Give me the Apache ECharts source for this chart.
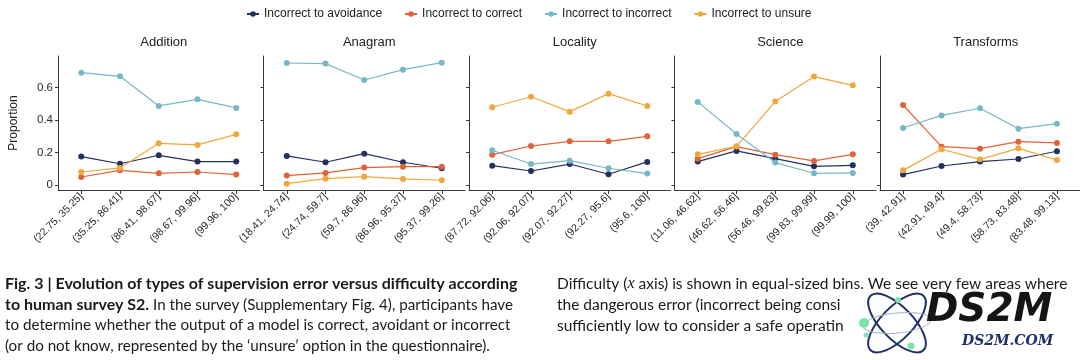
<!DOCTYPE html>
<html><head><meta charset="utf-8">
<script src="https://cdn.jsdelivr.net/npm/echarts@6/dist/echarts.min.js"></script>
<style>html,body{margin:0;padding:0;background:#fff}#c{width:1080px;height:360px}</style>
</head><body><div id="c"></div>
<script>
const panels = ['Addition','Anagram','Locality','Science','Transforms'];
const seriesNames = ['Incorrect to avoidance','Incorrect to correct','Incorrect to incorrect','Incorrect to unsure'];
const seriesColors = ['#25305e','#e0643a','#76b8c6','#f0a73d'];

const binsAddition   = ['(22.75, 35.25]','(35.25, 86.41]','(86.41, 98.67]','(98.67, 99.96]','(99.96, 100]'];
const binsAnagram    = ['(18.41, 24.74]','(24.74, 59.7]','(59.7, 86.96]','(86.96, 95.37]','(95.37, 99.26]'];
const binsLocality   = ['(87.72, 92.06]','(92.06, 92.07]','(92.07, 92.27]','(92.27, 95.6]','(95.6, 100]'];
const binsScience    = ['(11.06, 46.62]','(46.62, 56.46]','(56.46, 99.83]','(99.83, 99.99]','(99.99, 100]'];
const binsTransforms = ['(39, 42.91]','(42.91, 49.4]','(49.4, 58.73]','(58.73, 83.48]','(83.48, 99.13]'];

const additionAvoidance = [0.175, 0.131, 0.183, 0.144, 0.144];
const additionCorrect   = [0.049, 0.090, 0.072, 0.080, 0.064];
const additionIncorrect = [0.692, 0.670, 0.487, 0.528, 0.475];
const additionUnsure    = [0.080, 0.105, 0.257, 0.247, 0.312];

const anagramAvoidance = [0.179, 0.140, 0.193, 0.140, 0.103];
const anagramCorrect   = [0.058, 0.074, 0.107, 0.113, 0.113];
const anagramIncorrect = [0.752, 0.748, 0.647, 0.711, 0.754];
const anagramUnsure    = [0.008, 0.039, 0.051, 0.037, 0.029];

const localityAvoidance = [0.119, 0.086, 0.129, 0.066, 0.142];
const localityCorrect   = [0.187, 0.240, 0.269, 0.269, 0.300];
const localityIncorrect = [0.214, 0.129, 0.150, 0.103, 0.070];
const localityUnsure    = [0.479, 0.544, 0.452, 0.563, 0.487];

const scienceAvoidance = [0.144, 0.210, 0.162, 0.115, 0.121];
const scienceCorrect   = [0.162, 0.236, 0.187, 0.148, 0.189];
const scienceIncorrect = [0.512, 0.314, 0.138, 0.072, 0.074];
const scienceUnsure    = [0.189, 0.238, 0.514, 0.668, 0.614];

const transformsAvoidance = [0.064, 0.117, 0.144, 0.160, 0.208];
const transformsCorrect   = [0.493, 0.236, 0.224, 0.267, 0.259];
const transformsIncorrect = [0.351, 0.429, 0.473, 0.347, 0.378];
const transformsUnsure    = [0.090, 0.220, 0.158, 0.226, 0.154];

const yTicks = [0, 0.2, 0.4, 0.6];

const panelBins = [binsAddition, binsAnagram, binsLocality, binsScience, binsTransforms];
const panelData = [
  [additionAvoidance, additionCorrect, additionIncorrect, additionUnsure],
  [anagramAvoidance, anagramCorrect, anagramIncorrect, anagramUnsure],
  [localityAvoidance, localityCorrect, localityIncorrect, localityUnsure],
  [scienceAvoidance, scienceCorrect, scienceIncorrect, scienceUnsure],
  [transformsAvoidance, transformsCorrect, transformsIncorrect, transformsUnsure]
];

const FONT = 'Liberation Sans';
const AX = '#3a3a3a';
const L0 = 58, STEP = 205.5, PW = 201.5, TOP = 56, PH = 134;

const grids = [], xAxes = [], yAxes = [], series = [], titles = [];
panels.forEach((p, i) => {
  const left = L0 + STEP * i;
  grids.push({left: left, top: TOP, width: PW, height: PH, containLabel: false});
  titles.push({text: p, left: left + PW / 2, top: 31, textAlign: 'center',
    textStyle: {fontFamily: FONT, fontSize: 13, fontWeight: 'normal', color: '#222'}});
  const bins = panelBins[i];
  xAxes.push({
    type: 'value', gridIndex: i, min: -0.6, max: bins.length - 0.4,
    splitLine: {show: false},
    axisLine: {show: true, onZero: false, lineStyle: {color: AX, width: 1}},
    axisTick: {show: true, length: 4, customValues: bins.map((b, k) => k), lineStyle: {color: AX}},
    axisLabel: {show: true, customValues: bins.map((b, k) => k), rotate: 45, margin: 5,
      fontFamily: FONT, fontSize: 10.5, color: '#2a2a2a', formatter: v => bins[Math.round(v)] || ''}
  });
  yAxes.push({
    type: 'value', gridIndex: i, min: -0.031, max: 0.795,
    splitLine: {show: false},
    axisLine: {show: true, onZero: false, lineStyle: {color: AX, width: 1}},
    axisTick: {show: true, length: 3, customValues: yTicks, lineStyle: {color: AX}},
    axisLabel: {show: i === 0, customValues: yTicks, margin: 5, fontFamily: FONT, fontSize: 11.5, color: '#2a2a2a',
      formatter: v => v === 0 ? '0' : v.toFixed(1)},
    name: i === 0 ? 'Proportion' : '', nameLocation: 'middle', nameGap: 38, nameRotate: 90,
    nameTextStyle: {fontFamily: FONT, fontSize: 12, color: '#222'}
  });
  panelData[i].forEach((arr, s) => {
    series.push({
      name: seriesNames[s], type: 'line', xAxisIndex: i, yAxisIndex: i,
      data: arr.map((v, k) => [k, v]),
      symbol: 'circle', symbolSize: 6, showSymbol: true,
      color: seriesColors[s],
      lineStyle: {width: 1.2, color: seriesColors[s]},
      itemStyle: {color: seriesColors[s]},
      emphasis: {disabled: true}, animation: false, z: 2 + s
    });
  });
});

const capFont = 'Lato';
const capStyle = {fontFamily: capFont, fontSize: 15.2, fill: '#1a1a1a', rich: {
  b: {fontFamily: capFont, fontSize: 16, fontWeight: 'bold', color: '#1a1a1a'},
  n: {fontFamily: capFont, fontSize: 15.2, color: '#1a1a1a'},
  r: {fontFamily: capFont, fontSize: 15.5, color: '#1a1a1a'},
  i: {fontFamily: 'Liberation Serif', fontSize: 16, fontStyle: 'italic', color: '#1a1a1a'}
}};
function capLine(x, y, t) {
  return {type: 'text', left: x, top: y, z: 1, style: Object.assign({}, capStyle, {text: t})};
}

const option = {
  animation: false,
  backgroundColor: '#fff',
  title: titles,
  legend: {
    data: seriesNames, top: 3, left: 241, itemGap: 22, itemWidth: 12, itemHeight: 7,
    textStyle: {fontFamily: FONT, fontSize: 12, color: '#222'}
  },
  grid: grids, xAxis: xAxes, yAxis: yAxes, series: series,
  graphic: [
    capLine(5, 276, '{b|Fig. 3 | Evolution of types of supervision error versus difficulty according}'),
    capLine(5, 297, '{b|to human survey S2.}{n| In the survey (Supplementary Fig. 4), participants have}'),
    capLine(5, 318, '{n|to determine whether the output of a model is correct, avoidant or incorrect}'),
    capLine(5, 339, '{n|(or do not know, represented by the ‘unsure’ option in the questionnaire).}'),
    capLine(557, 276, '{r|Difficulty (}{i|x}{r| axis) is shown in equal-sized bins. We see very few areas where}'),
    capLine(557, 297, '{r|the dangerous error (incorrect being consi}'),
    capLine(557, 318, '{r|sufficiently low to consider a safe operatin}'),
    {type: 'rect', z: 5, shape: {x: 852, y: 295, width: 228, height: 65}, style: {fill: '#fff'}},
    {type: 'ellipse', z: 6, x: 897, y: 323, rotation: 0.8, shape: {cx: 0, cy: 0, rx: 38, ry: 16}, style: {fill: 'none', stroke: '#1f2f6b', lineWidth: 2}},
    {type: 'ellipse', z: 6, x: 897, y: 323, rotation: -0.8, shape: {cx: 0, cy: 0, rx: 38, ry: 16}, style: {fill: 'none', stroke: '#1f2f6b', lineWidth: 2}},
    {type: 'ellipse', z: 6, x: 897, y: 323, rotation: 0.1, shape: {cx: 0, cy: 0, rx: 34, ry: 10}, style: {fill: 'none', stroke: '#a9b0c8', lineWidth: 1}},
    {type: 'circle', z: 7, shape: {cx: 864, cy: 323, r: 5}, style: {fill: '#7de3a6'}},
    {type: 'circle', z: 7, shape: {cx: 898, cy: 300, r: 3}, style: {fill: '#7de3a6'}},
    {type: 'circle', z: 7, shape: {cx: 911, cy: 346, r: 3.5}, style: {fill: '#7de3a6'}},
    {type: 'circle', z: 7, shape: {cx: 866, cy: 335, r: 2.5}, style: {fill: '#7de3a6'}},
    {type: 'text', z: 7, left: 926, top: 291, style: {text: 'DS2M', fontFamily: 'DejaVu Sans', fontSize: 39, fontWeight: 'bold', fontStyle: 'italic', fill: '#151515'}},
    {type: 'text', z: 7, left: 962, top: 334, style: {text: 'DS2M.COM', fontFamily: 'DejaVu Serif', fontSize: 14, fontWeight: 'bold', fontStyle: 'italic', fill: '#1f2f6b'}}
  ]
};
const chart = echarts.init(document.getElementById('c'), null, {renderer: 'canvas'});
chart.setOption(option);
</script></body></html>
